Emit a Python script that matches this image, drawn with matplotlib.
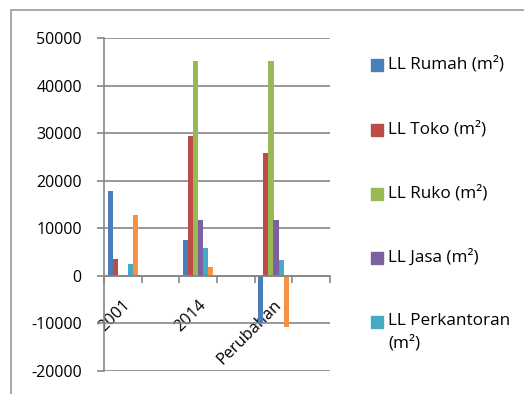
import numpy as np
import matplotlib.pyplot as plt
from matplotlib.patches import Rectangle

plt.rcParams['font.family'] = ['Open Sans', 'DejaVu Sans']

# luas lantai per kategori (m2); kolom: 2001, 2014, Perubahan
categories = ['2001', '2014', 'Perubahan']
ll_rumah = [17800, 7600, -10000]
ll_toko = [3500, 29400, 25900]
ll_ruko = [0, 45200, 45200]
ll_jasa = [0, 11800, 11800]
ll_perkantoran = [2500, 5900, 3400]
ll_lain = [12800, 1900, -10700]

series_labels = ['LL Rumah (m²)', 'LL Toko (m²)', 'LL Ruko (m²)', 'LL Jasa (m²)',
                 'LL Perkantoran\n(m²)', 'LL Lainnya (m²)']
series_values = [ll_rumah, ll_toko, ll_ruko, ll_jasa, ll_perkantoran, ll_lain]
colors = ['#4a7ebb', '#be4b48', '#98b954', '#7d60a0', '#46aac5', '#f69240']
yticks = [-20000, -10000, 0, 10000, 20000, 30000, 40000, 50000]

# every category sits on its own slot, with an empty slot after it
n_slots = 2 * len(categories)
slot_pos = np.arange(len(categories)) * 2
n_series = len(series_values)
width = 0.8 / n_series

fig = plt.figure(figsize=(5.24, 3.94), dpi=100)
ax = fig.add_axes([104 / 524, 23 / 394, 226 / 524, 333 / 394])

grid_c = '#868686'
# spine position first: moving it resets the ticks
for side in ['top', 'right']:
    ax.spines[side].set_visible(False)
ax.spines['left'].set_color(grid_c)
ax.spines['left'].set_linewidth(1.2)
ax.spines['bottom'].set_position(('data', 0))
ax.spines['bottom'].set_color(grid_c)
ax.spines['bottom'].set_linewidth(1.2)
ax.spines['bottom'].set_zorder(4)

for i, (vals, color) in enumerate(zip(series_values, colors)):
    x = slot_pos - 0.4 + width * (i + 0.5)
    ax.bar(x, vals, width=width, color=color, zorder=3, linewidth=0)

ax.set_xlim(-0.5, n_slots - 0.5)
ax.set_ylim(yticks[0], yticks[-1])
ax.set_yticks(yticks)
ax.set_yticklabels([str(t) for t in yticks], fontsize=11.5)
ax.yaxis.grid(True, color=grid_c, linewidth=1.2, zorder=0)
ax.tick_params(axis='y', length=5, width=1.2, color=grid_c, pad=11)

ax.set_xticks(slot_pos)
ax.set_xticklabels(categories, fontsize=11.8, rotation=45, ha='right',
                   va='top', rotation_mode='anchor')
ax.tick_params(axis='x', which='major', length=0, pad=15)
ax.set_xticks(np.arange(n_slots + 1) - 0.5, minor=True)
ax.tick_params(axis='x', which='minor', length=5, width=1.2, color=grid_c,
               direction='out')

# legend drawn by hand so the swatch lines up with the first text line
row_y = [65, 130, 194, 258, 322]
for label, color, y in zip(series_labels[:5], colors[:5], row_y):
    fig.patches.append(Rectangle((371 / 524, 1 - (y + 6) / 394), 12 / 524, 12 / 394,
                                 transform=fig.transFigure, color=color))
    fig.text(388 / 524, 1 - (y - 9) / 394, label, fontsize=12.3, va='top',
             ha='left', linespacing=1.5)

# outer frame of the chart area
fig.patches.append(Rectangle((11 / 524, -0.1), 1.2, 1 - 10 / 394 + 0.1,
                             transform=fig.transFigure, fill=False,
                             edgecolor='#9a9a9a', linewidth=1.2))

plt.savefig('out.png', dpi=100)
plt.close()
